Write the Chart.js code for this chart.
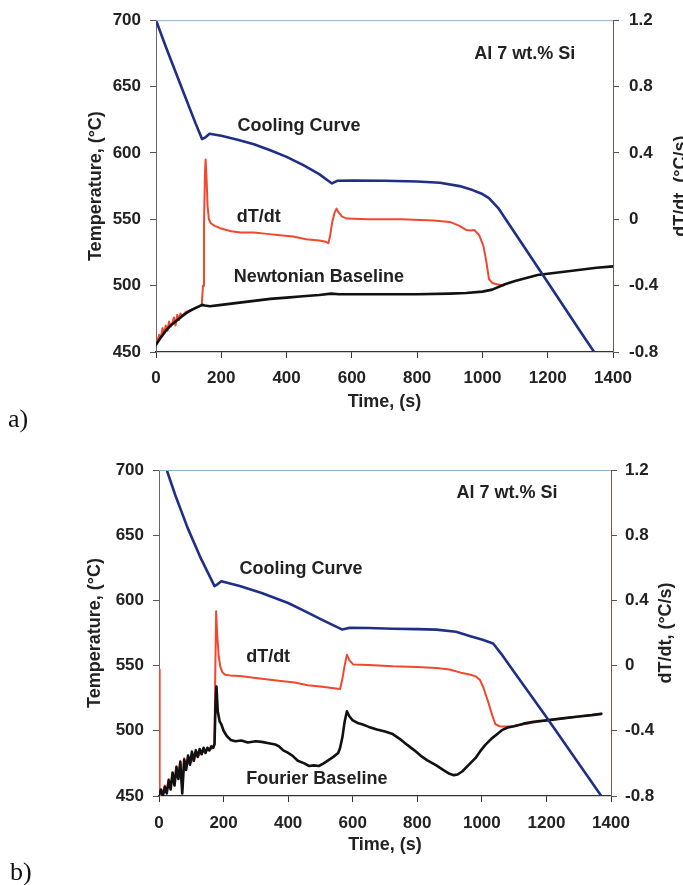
<!DOCTYPE html>
<html><head><meta charset="utf-8">
<script src="https://cdn.jsdelivr.net/npm/chart.js@4.4.1/dist/chart.umd.min.js"></script>
<style>
html,body{margin:0;padding:0;background:#fff;}
#wrap{position:relative;width:683px;height:885px;overflow:hidden;background:#fff;}
canvas{position:absolute;left:0;}
</style></head><body>
<div id="wrap">
<canvas id="ca" width="683" height="440" style="top:0"></canvas>
<canvas id="cb" width="683" height="445" style="top:440px"></canvas>
</div>
<script>
// ---------- shared axis ticks ----------
const timeTicks = [0, 200, 400, 600, 800, 1000, 1200, 1400];
const tempTicks = [450, 500, 550, 600, 650, 700];
const rateTicks = [-0.8, -0.4, 0, 0.4, 0.8, 1.2];

// ---------- panel a) Newtonian ----------
const aCoolT = [0,30,60,90,120,141,150,164,200,250,300,350,400,450,500,539,555,600,700,800,870,930,970,1000,1020,1050,1100,1200,1300,1345];
const aCoolV = [700,680,661,642,623,610.5,611.5,614.5,613,610,606.5,602,597,591,584,577,579,579.2,579,578.5,577.5,575,572,569,566,558,539.5,502.5,465.5,449];

const aRateT = [0,5,10,15,20,25,30,35,40,45,50,55,60,65,70,75,80,90,100,110,120,130,140,144,147,150,152,155,158,162,168,180,200,230,260,300,340,380,420,460,500,520,528,533,540,547,553,560,570,585,650,750,850,900,930,950,965,975,990,1003,1012,1020,1030,1045,1065];
const aRateV = [-0.752,-0.728,-0.696,-0.712,-0.656,-0.688,-0.64,-0.672,-0.616,-0.648,-0.624,-0.592,-0.64,-0.576,-0.608,-0.568,-0.584,-0.56,-0.552,-0.544,-0.536,-0.528,-0.52,-0.4,-0.04,0.28,0.36,0.24,0.08,0,-0.024,-0.04,-0.056,-0.072,-0.08,-0.08,-0.088,-0.096,-0.104,-0.12,-0.128,-0.136,-0.144,-0.104,-0.016,0.04,0.064,0.04,0.016,0.004,0,0,-0.008,-0.016,-0.04,-0.064,-0.068,-0.064,-0.096,-0.16,-0.256,-0.36,-0.384,-0.392,-0.4];

const aBaseT = [0,15,30,45,60,80,100,120,141,150,165,200,250,300,350,400,450,500,537,560,600,700,800,900,950,1000,1030,1069,1100,1169,1200,1250,1300,1350,1400];
const aBaseV = [-0.756,-0.712,-0.672,-0.64,-0.616,-0.584,-0.556,-0.536,-0.516,-0.52,-0.524,-0.516,-0.504,-0.492,-0.48,-0.472,-0.464,-0.456,-0.448,-0.452,-0.452,-0.452,-0.452,-0.448,-0.444,-0.436,-0.424,-0.392,-0.372,-0.336,-0.328,-0.316,-0.304,-0.292,-0.284];

// ---------- panel b) Fourier ----------
const bCoolT = [24,50,88,130,172,182,193,250,318,400,453,510,568,588,650,724,800,859,920,967,1000,1035,1060,1100,1197,1300,1370];
const bCoolV = [700,681,656,632,611,612.5,614.7,611,605.7,598,591.6,584.5,577.6,578.9,578.8,578.3,578,577.6,576,572.4,570,567,559,545,511.5,475,450];

const bRateT = [0,2,6,12,18,24,30,36,42,48,54,60,66,72,78,84,90,100,110,120,130,140,150,160,168,172,174,177,180,185,190,196,205,220,250,300,350,385,420,460,500,548,561,568,575,582,590,602,650,724,800,859,900,940,965,981,994,1005,1021,1032,1042,1055,1062,1089,1130,1200,1250,1300,1370];
const bRateV = [-0.024,-0.808,-0.768,-0.792,-0.736,-0.776,-0.696,-0.744,-0.664,-0.72,-0.616,-0.688,-0.584,-0.76,-0.568,-0.632,-0.56,-0.592,-0.544,-0.56,-0.528,-0.528,-0.512,-0.512,-0.504,-0.488,-0.08,0.333,0.2,0.056,-0.008,-0.04,-0.056,-0.06,-0.064,-0.076,-0.088,-0.096,-0.104,-0.12,-0.128,-0.14,-0.144,-0.08,0,0.067,0.032,0.006,0.004,-0.004,-0.008,-0.015,-0.024,-0.046,-0.056,-0.066,-0.088,-0.136,-0.232,-0.304,-0.36,-0.372,-0.374,-0.374,-0.36,-0.336,-0.324,-0.312,-0.296];

const bBaseT = [0,6,12,18,24,30,36,42,48,54,60,66,72,78,84,90,96,102,108,114,120,126,132,138,144,150,156,162,168,172,175,178,182,188,193,200,210,222,237,255,275,300,318,340,360,372,385,400,413,430,450,465,480,495,510,525,540,555,561,568,575,582,590,600,615,629,650,675,700,724,750,770,791,810,830,859,880,900,913,925,940,960,980,994,1010,1030,1045,1062,1080,1100,1129,1160,1200,1250,1300,1340,1370];
const bBaseV = [-0.792,-0.76,-0.8,-0.744,-0.784,-0.704,-0.76,-0.656,-0.736,-0.624,-0.696,-0.592,-0.784,-0.576,-0.64,-0.552,-0.608,-0.528,-0.584,-0.52,-0.56,-0.512,-0.544,-0.504,-0.536,-0.504,-0.52,-0.496,-0.504,-0.48,-0.24,-0.128,-0.28,-0.344,-0.36,-0.4,-0.432,-0.456,-0.464,-0.46,-0.472,-0.464,-0.468,-0.476,-0.484,-0.496,-0.52,-0.536,-0.552,-0.584,-0.6,-0.616,-0.612,-0.616,-0.6,-0.58,-0.56,-0.536,-0.504,-0.44,-0.344,-0.28,-0.312,-0.336,-0.352,-0.36,-0.376,-0.392,-0.404,-0.42,-0.456,-0.488,-0.52,-0.552,-0.58,-0.612,-0.64,-0.664,-0.672,-0.668,-0.648,-0.608,-0.568,-0.528,-0.488,-0.448,-0.424,-0.396,-0.38,-0.372,-0.356,-0.344,-0.336,-0.324,-0.312,-0.304,-0.296];

// ---------- styles ----------
const BLUE = '#1f2f86', RED = '#f0482e', BLACK = '#111111';
const FONT = '"Liberation Sans", Arial, sans-serif';

function pts(t, v) { return t.map((x, i) => ({x: x, y: v[i]})); }

const textPlugin = {
  id: 'txt',
  afterDraw(chart, args, o) {
    const {ctx, chartArea: ca, scales} = chart;
    ctx.save();
    // top border of the plot frame
    ctx.strokeStyle = '#8fb0c8'; ctx.lineWidth = 1;
    ctx.beginPath(); ctx.moveTo(ca.left, ca.top + 0.5); ctx.lineTo(ca.right, ca.top + 0.5); ctx.stroke();
    ctx.fillStyle = '#222';
    ctx.font = 'bold 18px ' + FONT;
    ctx.textAlign = 'center'; ctx.textBaseline = 'middle';
    ctx.fillText('Time, (s)', (ca.left + ca.right) / 2, o.xTitleY);
    const cy = (ca.top + ca.bottom) / 2;
    ctx.save(); ctx.translate(o.leftTitleX, cy); ctx.rotate(-Math.PI / 2);
    ctx.fillText('Temperature, (\u00B0C)', 0, 0); ctx.restore();
    ctx.save(); ctx.translate(o.rightTitleX, cy); ctx.rotate(-Math.PI / 2);
    ctx.fillText('dT/dt, (\u00B0C/s)', 0, 0); ctx.restore();
    o.labels.forEach(l => {
      ctx.fillText(l.text, scales.x.getPixelForValue(l.x), scales.y.getPixelForValue(l.y));
    });
    ctx.font = '26px "Liberation Serif", "DejaVu Serif", serif';
    ctx.textAlign = 'left'; ctx.fillStyle = '#111';
    ctx.fillText(o.panel, o.panelX, o.panelY);
    ctx.restore();
  }
};

function makePanel(id, g, cool, rate, base, opts) {
  const tickFont = {family: FONT, size: 17, weight: 'bold'};
  new Chart(document.getElementById(id), {
    type: 'line',
    data: {
      datasets: [
        {data: pts(cool[0], cool[1]), yAxisID: 'y', borderColor: BLUE, borderWidth: 2.6},
        {data: pts(base[0], base[1]), yAxisID: 'y2', borderColor: BLACK, borderWidth: g.baseW},
        {data: pts(rate[0], rate[1]), yAxisID: 'y2', borderColor: RED, borderWidth: 2}
      ]
    },
    options: {
      responsive: false, animation: false, devicePixelRatio: 1,
      layout: {padding: {top: g.top, left: 0, right: 0, bottom: 0}},
      elements: {point: {radius: 0}, line: {tension: 0, borderCapStyle: 'round', borderJoinStyle: 'round'}},
      plugins: {legend: {display: false}, tooltip: {enabled: false}, txt: opts},
      scales: {
        x: {
          type: 'linear', min: 0, max: 1400,
          afterBuildTicks: s => { s.ticks = timeTicks.map(v => ({value: v})); },
          afterFit: s => { s.height = g.xH; },
          grid: {drawOnChartArea: false, drawTicks: true, tickLength: 6, color: '#333'},
          border: {display: true, color: '#333', width: 1.2},
          ticks: {font: tickFont, color: '#222', padding: g.xPad, maxRotation: 0, autoSkip: false,
                  callback: v => String(v)}
        },
        y: {
          type: 'linear', position: 'left', min: 450, max: 700,
          afterBuildTicks: s => { s.ticks = tempTicks.map(v => ({value: v})); },
          afterFit: s => { s.width = g.left; },
          grid: {drawOnChartArea: false, drawTicks: true, tickLength: 6, color: '#555'},
          border: {display: true, color: '#666', width: 1},
          ticks: {font: tickFont, color: '#222', padding: 9, callback: v => String(v)}
        },
        y2: {
          type: 'linear', position: 'right', min: -0.8, max: 1.2,
          afterBuildTicks: s => { s.ticks = rateTicks.map(v => ({value: v})); },
          afterFit: s => { s.width = g.right; },
          grid: {drawOnChartArea: false, drawTicks: true, tickLength: 6, color: '#555'},
          border: {display: true, color: '#6b5a50', width: 1},
          ticks: {font: tickFont, color: '#222', padding: g.rPad,
                  callback: v => (Math.abs(v) < 1e-9 ? '0' : String(Math.round(v * 10) / 10))}
        }
      }
    },
    plugins: [textPlugin]
  });
}

makePanel('ca', {top: 19, left: 156, right: 70, xH: 88, xPad: 10, rPad: 10, baseW: 2.6},
  [aCoolT, aCoolV], [aRateT, aRateV], [aBaseT, aBaseV],
  {xTitleY: 402, leftTitleX: 96, rightTitleX: 681, panel: 'a)', panelX: 8, panelY: 420,
   labels: [
     {text: 'Al 7 wt.% Si', x: 1130, y: 674.5},
     {text: 'Cooling Curve', x: 438, y: 620.4},
     {text: 'dT/dt', x: 315, y: 551.4},
     {text: 'Newtonian Baseline', x: 499, y: 506.3}
   ]});

makePanel('cb', {top: 30, left: 159, right: 72, xH: 89, xPad: 11, rPad: 8, baseW: 2.6},
  [bCoolT, bCoolV], [bRateT, bRateV], [bBaseT, bBaseV],
  {xTitleY: 405, leftTitleX: 95, rightTitleX: 666, panel: 'b)', panelX: 10, panelY: 433,
   labels: [
     {text: 'Al 7 wt.% Si', x: 1078, y: 682.4},
     {text: 'Cooling Curve', x: 440, y: 624.1},
     {text: 'dT/dt', x: 338, y: 556.6},
     {text: 'Fourier Baseline', x: 489, y: 463}
   ]});
</script>
</body></html>
